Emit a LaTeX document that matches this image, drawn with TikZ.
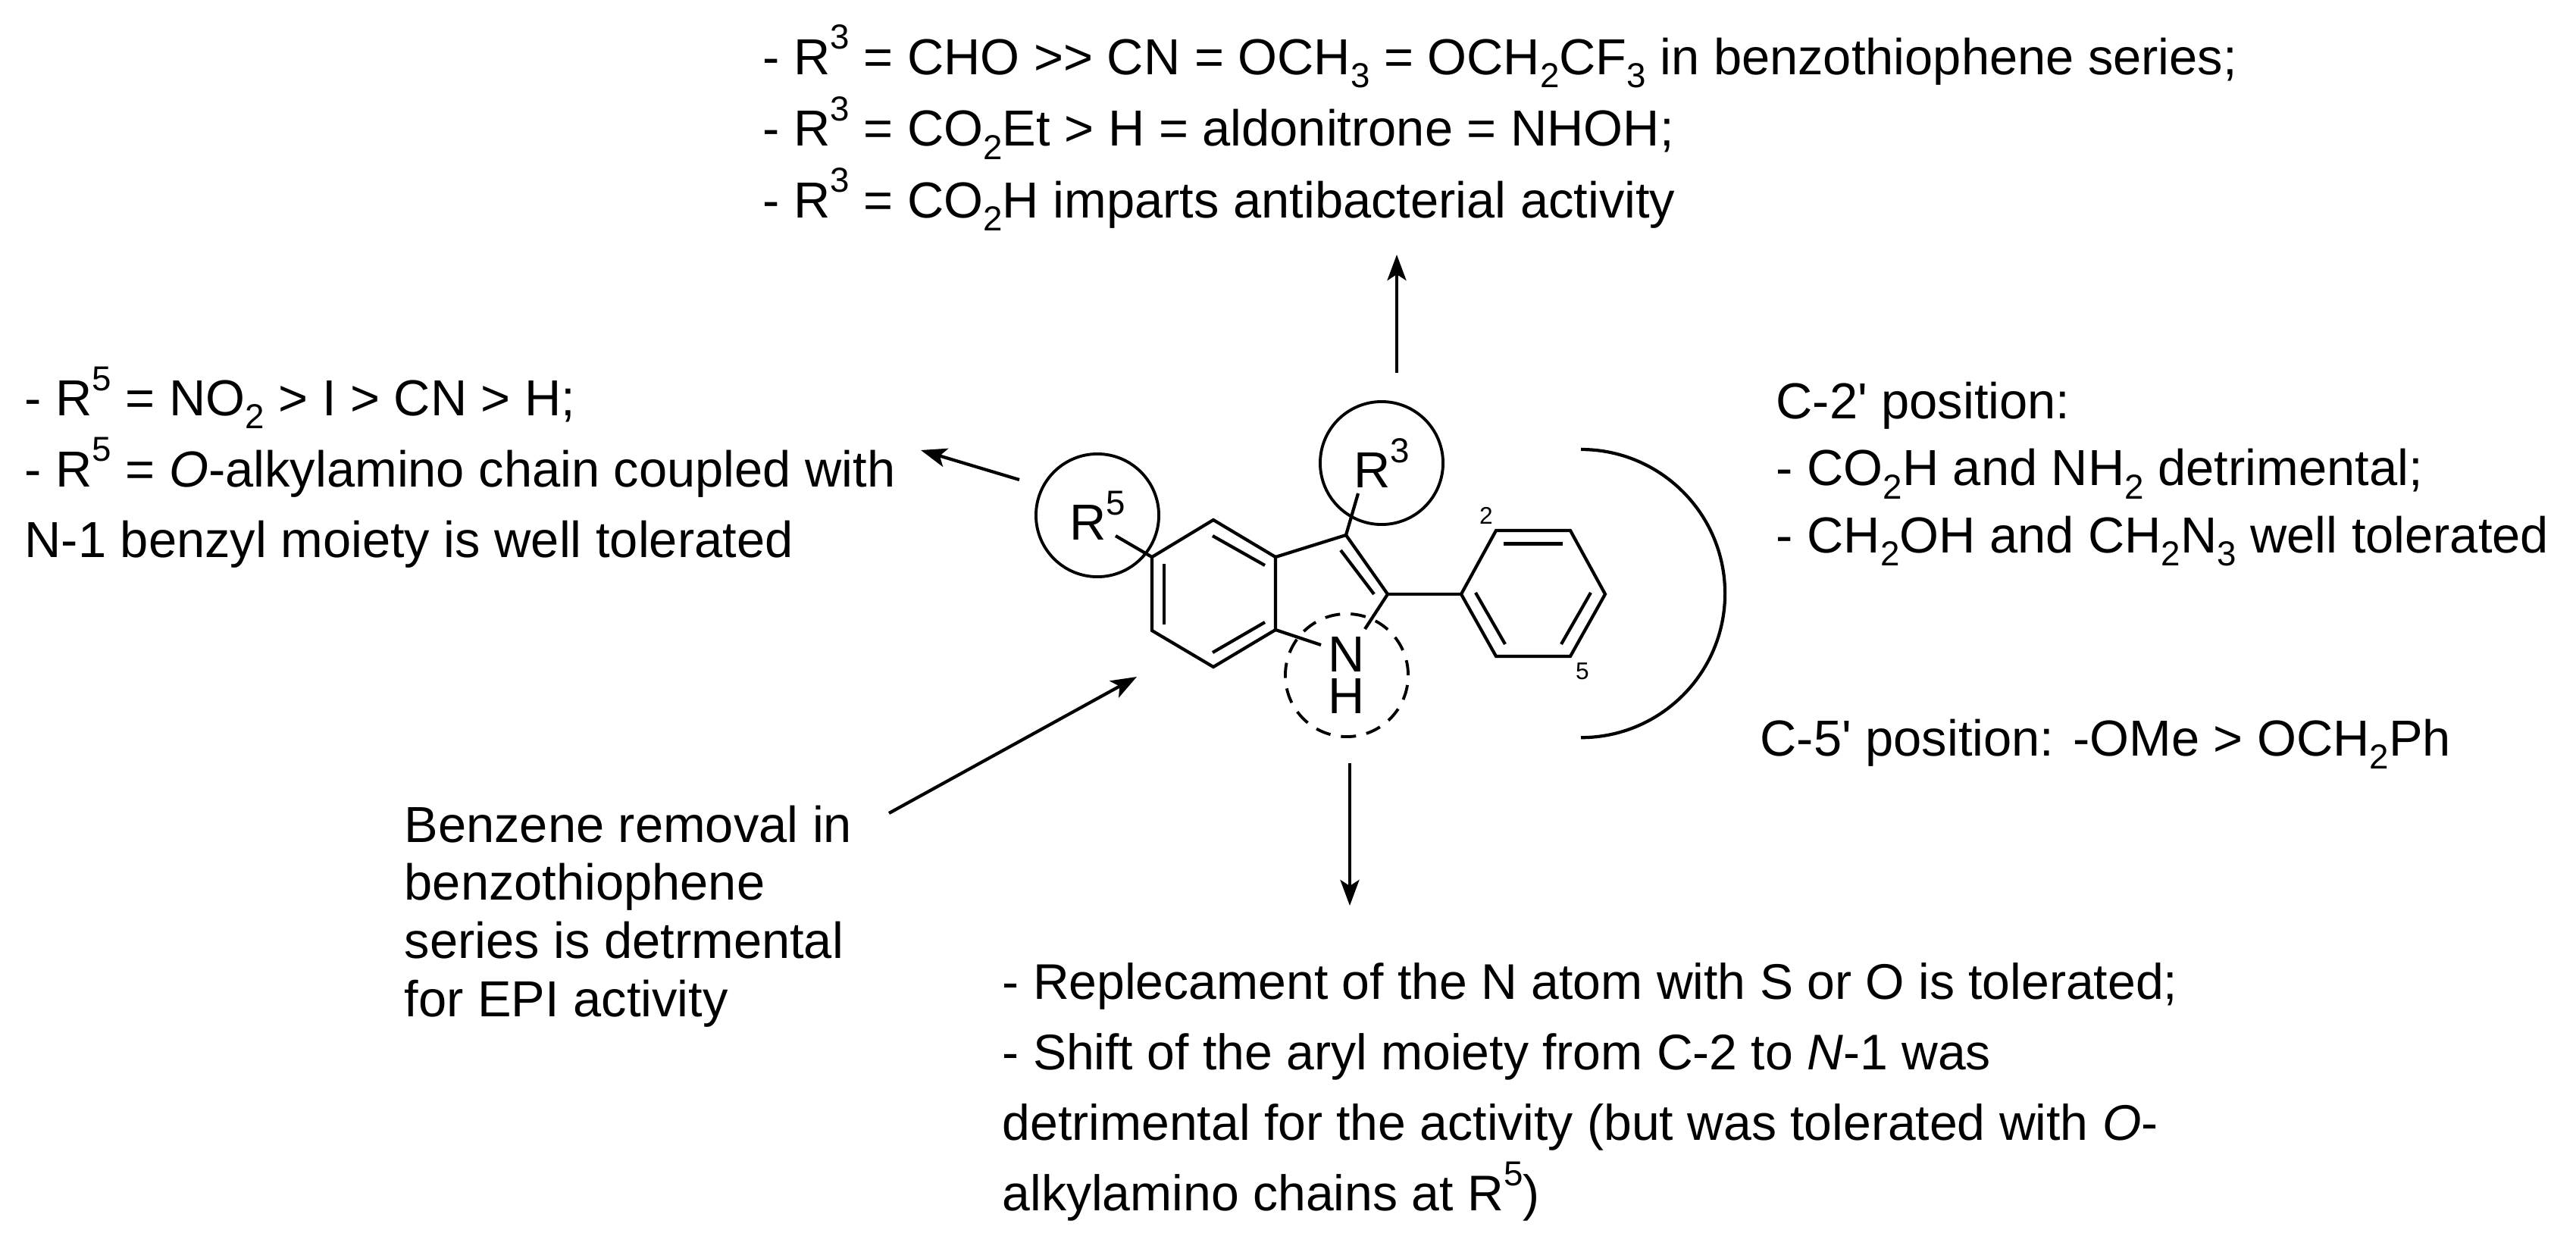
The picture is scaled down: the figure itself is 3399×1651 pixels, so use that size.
\documentclass[tikz,border=0pt]{standalone}
\usepackage{fontspec}
\setmainfont{Liberation Sans}
\usepackage{tikz}
\usetikzlibrary{calc}
\usetikzlibrary{arrows.meta}
\usetikzlibrary{positioning}
\newcommand{\up}[1]{\raisebox{.5em}{\fontsize{13}{13}\selectfont #1}}
\newcommand{\dn}[1]{\raisebox{-.26em}{\fontsize{13}{13}\selectfont #1}}
\tikzset{>={Stealth[length=.34cm,width=.25cm,inset=.08cm]}}
\tikzset{bond/.style = {line width=1.2pt, line join=miter}}
\tikzset{arr/.style = {->, line width=1.2pt}}
\tikzset{note/.style = {draw=none, align=left, anchor=north west, inner sep=0pt}}
\tikzset{group/.style = {circle, draw=black, line width=1.1pt, inner sep=0pt, minimum size=1.62cm, font=\fontsize{19}{15.6}\selectfont, align=center}}
\tikzset{locant/.style = {draw=none, inner sep=0pt, font=\fontsize{9}{9}\selectfont}}

\begin{document}
\begin{tikzpicture}[x=.01cm, y=-.01cm]
\useasboundingbox (0,0) rectangle (3399,1651);
% ring atoms
\coordinate (C5) at (1520,735);
\coordinate (C4) at (1601,686);
\coordinate (C3a) at (1683,735);
\coordinate (C7a) at (1683,831);
\coordinate (C7) at (1601,880);
\coordinate (C6) at (1520,832);
\coordinate (C3) at (1776,706);
\coordinate (C2) at (1831,784);
\coordinate (Nl) at (1743,851);
\coordinate (Nr) at (1801,830);
\coordinate (P1) at (1928,784);
\coordinate (P2) at (1974,700);
\coordinate (P3) at (2072,700);
\coordinate (P4) at (2118,784);
\coordinate (P5) at (2072,866);
\coordinate (P6) at (1974,866);
% inner lines of the double bonds
\coordinate (a1) at (1669,746);
\coordinate (a2) at (1600,707);
\coordinate (b1) at (1536,744);
\coordinate (b2) at (1536,824);
\coordinate (c1) at (1600,861);
\coordinate (c2) at (1669,821);
\coordinate (d1) at (1769,726);
\coordinate (d2) at (1813,784);
\coordinate (e1) at (1984,717.5);
\coordinate (e2) at (2062,717.5);
\coordinate (f1) at (1947,782);
\coordinate (f2) at (1986,850);
\coordinate (g1) at (2099,782);
\coordinate (g2) at (2060,850);
% circled groups
\node [group] (R3) at (1823,611) {R\up{3}};
\node [group] (R5) at (1448,680) {R\up{5}};
\node [group, dash pattern=on .2cm off .14cm] (NH) at (1777,891) {N\\H};
\coordinate (R3b) at (1792,651);
\coordinate (R5b) at (1472,707);
% bonds
\draw [bond] (C5) -- (C4) -- (C3a) -- (C7a) -- (C7) -- (C6) -- cycle;
\draw [bond] (C3a) -- (C3) -- (C2) -- (Nr);
\draw [bond] (C7a) -- (Nl);
\draw [bond] (C2) -- (P1);
\draw [bond] (P1) -- (P2) -- (P3) -- (P4) -- (P5) -- (P6) -- cycle;
\draw [bond] (C3) -- (R3b);
\draw [bond] (C5) -- (R5b);
\draw [bond] (a1) -- (a2);
\draw [bond] (b1) -- (b2);
\draw [bond] (c1) -- (c2);
\draw [bond] (d1) -- (d2);
\draw [bond] (e1) -- (e2);
\draw [bond] (f1) -- (f2);
\draw [bond] (g1) -- (g2);
\node [locant] (n2) at (1961,680) {2};
\node [locant] (n5) at (2088,886) {5};
% bracket of the aryl ring
\coordinate (brT) at (2086,593);
\draw [bond] (brT) arc [start angle=90, end angle=-90, radius=1.9cm];
% notes
\node [note, font=\fontsize{19}{26.9}\selectfont] (top) at (1006,32) {- R\up{3} = CHO >{}> CN = OCH\dn{3} = OCH\dn{2}CF\dn{3} in benzothiophene series;\\- R\up{3} = CO\dn{2}Et > H = aldonitrone = NHOH;\\- R\up{3} = CO\dn{2}H imparts antibacterial activity};
\node [note, font=\fontsize{19}{26.6}\selectfont] (left) at (32,483) {- R\up{5} = NO\dn{2} > I > CN > H;\\- R\up{5} = \textit{O}-alkylamino chain coupled with\\N-1 benzyl moiety is well tolerated};
\node [note, font=\fontsize{19}{25.2}\selectfont] (right) at (2343,503) {C-2\textquotesingle{} position:\\- CO\dn{2}H and NH\dn{2} detrimental;\\- CH\dn{2}OH and CH\dn{2}N\dn{3} well tolerated};
\node [note, font=\fontsize{19}{26}\selectfont] (right2) at (2322,948) {C-5\textquotesingle{} position: -OMe > OCH\dn{2}Ph};
\node [note, font=\fontsize{19}{21.8}\selectfont] (benz) at (533,1062) {Benzene removal in\\benzothiophene\\series is detrmental\\for EPI activity};
\node [note, font=\fontsize{18.8}{26.4}\selectfont] (bot) at (1322,1270) {- Replecament of the N atom with S or O is tolerated;\\- Shift of the aryl moiety from C-2 to \textit{N}-1 was\\detrimental for the activity (but was tolerated with \textit{O}-\\alkylamino chains at R\up{5})};
% arrows
\coordinate (t1) at (1843,492);
\coordinate (t2) at (1843,336);
\coordinate (l1) at (1345,633);
\coordinate (l2) at (1215,594);
\coordinate (b3) at (1173,1073);
\coordinate (b4) at (1500,893);
\coordinate (d3) at (1781,1007);
\coordinate (d4) at (1781,1195);
\draw [arr] (t1) -- (t2);
\draw [arr] (l1) -- (l2);
\draw [arr] (b3) -- (b4);
\draw [arr] (d3) -- (d4);
\end{tikzpicture}
\end{document}
